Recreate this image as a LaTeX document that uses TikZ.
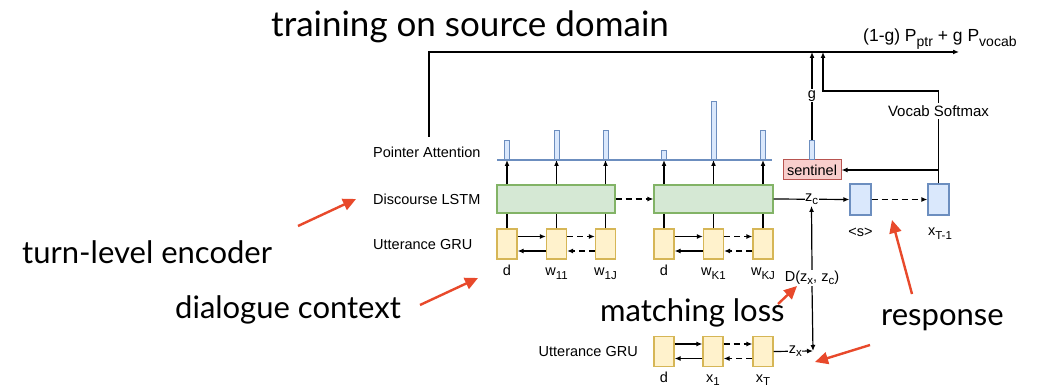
\documentclass[tikz,border=0pt]{standalone}
\usepackage{fontspec}
\setmainfont{Liberation Sans}
\newfontfamily\bigfont{Lato}
\usetikzlibrary{arrows.meta}
\definecolor{yfill}{HTML}{FFF2CC}
\definecolor{ydraw}{HTML}{D6B656}
\definecolor{gfill}{HTML}{D5E8D4}
\definecolor{gdraw}{HTML}{82B366}
\definecolor{bfill}{HTML}{DAE8FC}
\definecolor{bdraw}{HTML}{6C8EBF}
\definecolor{rfill}{HTML}{F8CECC}
\definecolor{rdraw}{HTML}{B85450}
\definecolor{redc}{HTML}{E8492B}
\newcommand\sbs[1]{\raisebox{-0.45ex}{\fontsize{11.5}{12}\selectfont #1}}
\newcommand\sbb[1]{\raisebox{-0.45ex}{\fontsize{14}{15}\selectfont #1}}
\begin{document}
\begin{tikzpicture}[x=1pt,y=-1pt,
  ybox/.style={draw=ydraw,fill=yfill,line width=1.2pt,minimum width=20pt,minimum height=30pt,inner sep=0pt},
  gbox/.style={draw=gdraw,fill=gfill,line width=1.2pt,minimum height=28pt,inner sep=0pt},
  bbox/.style={draw=bdraw,fill=bfill,line width=1.2pt,minimum width=21pt,minimum height=31pt,inner sep=0pt},
  bar/.style={draw=bdraw,fill=bfill,line width=0.8pt,minimum width=5pt,inner sep=0pt,anchor=south},
  arr/.style={-{Latex[length=6pt,width=5pt]},line width=1.2pt},
  blk/.style={line width=1.2pt},
  dsh/.style={dash pattern=on 6pt off 4pt},
  lbl/.style={font=\fontsize{14.5}{16}\selectfont,inner sep=1pt},
  big/.style={font=\bigfont\fontsize{31}{36}\selectfont,inner sep=0pt},
  redarr/.style={draw=redc,line width=2.4pt,-{Triangle[length=13pt,width=12pt]}}]
\useasboundingbox[fill=white] (0,0) rectangle (1037,390);

% top-row utterance GRU boxes
\node[ybox] (u1) at (507,244) {};
\node[ybox] (u2) at (556.5,244) {};
\node[ybox] (u3) at (605.5,244) {};
\node[ybox] (u4) at (664,244) {};
\node[ybox] (u5) at (713.5,244) {};
\node[ybox] (u6) at (763,244) {};
% discourse LSTM
\node[gbox,minimum width=118pt] (g1) at (556,199) {};
\node[gbox,minimum width=119pt] (g2) at (713.5,199) {};
% pointer line ends
\coordinate (pl) at (497,160);
\coordinate (pr) at (772,160);

\foreach \i in {1,...,6}{
  \draw[blk] (u\i.north) -- (u\i.north |- g1.south);
  \draw[arr] (u\i.north |- g1.north) -- (u\i.north |- pl);
}
\draw[bdraw,line width=1.3pt] (pl) -- (pr);
\node[bar,minimum height=19pt] (p1) at (u1.north |- pl) {};
\node[bar,minimum height=29pt] (p2) at (u2.north |- pl) {};
\node[bar,minimum height=29pt] (p3) at (u3.north |- pl) {};
\node[bar,minimum height=9pt]  (p4) at (u4.north |- pl) {};
\node[bar,minimum height=58pt] (p5) at (u5.north |- pl) {};
\node[bar,minimum height=29pt] (p6) at (u6.north |- pl) {};

% GRU arrows
\foreach \a/\b in {u1/u2,u4/u5}{
  \draw[arr] ([yshift=7.5pt]\a.east) -- ([yshift=7.5pt]\b.west);
  \draw[arr] ([yshift=-7pt]\b.west) -- ([yshift=-7pt]\a.east);
}
\foreach \a/\b in {u2/u3,u5/u6}{
  \draw[arr,dsh] ([yshift=7.5pt]\a.east) -- ([yshift=7.5pt]\b.west);
  \draw[arr,dsh] ([yshift=-7pt]\b.west) -- ([yshift=-7pt]\a.east);
}
\draw[arr,dsh] (g1.east) -- (g2.west);

% labels under top GRU
\node[lbl,anchor=base] (l1) at (507,276) {d};
\node[lbl,anchor=base] (l2) at (556.5,276) {w\sbs{11}};
\node[lbl,anchor=base] (l3) at (605.5,276) {w\sbs{1J}};
\node[lbl,anchor=base] (l4) at (664,276) {d};
\node[lbl,anchor=base] (l5) at (713.5,276) {w\sbs{K1}};
\node[lbl,anchor=base] (l6) at (763,276) {w\sbs{KJ}};

% left labels
\node[lbl,anchor=west] (pa) at (372,152) {Pointer Attention};
\node[lbl,anchor=west] (dl) at (372,199) {Discourse LSTM};
\node[lbl,anchor=west] (ug) at (372,245) {Utterance GRU};

% decoder
\node[bbox] (s) at (860.5,199.5) {};
\node[bbox] (xt) at (938.5,199.5) {};
\node[lbl,anchor=base] (sl) at (860.5,237) {<s>};
\node[lbl,anchor=base] (xl) at (940,236) {x\sbs{T-1}};
\draw[arr] (g2.east) -- node[lbl,fill=white,inner sep=0.5pt,pos=0.5] (zc) {z\sbs{c}} (s.west);
\draw[arr,dsh] (s.east) -- (xt.west);

% sentinel
\node[draw=rdraw,fill=rfill,line width=1pt,minimum width=58pt,minimum height=20pt,inner sep=0pt,font=\fontsize{14.5}{16}\selectfont] (sent) at (812,170) {sentinel};
\node[bar,minimum height=19pt] (p7) at (sent.north) {};

% top output
\coordinate (tl) at (429,137);
\coordinate (tr) at (959,52);
\draw[arr] (tl) |- (tr);
\node[inner sep=0pt,font=\fontsize{17.5}{19}\selectfont,anchor=base west] (out) at (863,42) {(1-g) P\sbb{ptr} + g P\sbb{vocab}};
\draw[arr] (p7.north) -- node[lbl,fill=white,pos=0.5] (gl) {g} (p7.north |- tr);
\coordinate (vk) at (823,91);
\draw[arr] (xt.north) |- (vk) -- (vk |- tr);
\node[fill=white,inner sep=2pt,font=\fontsize{15}{16}\selectfont] (vs) at (xt.north |- 0,111) {Vocab Softmax};
\draw[arr] (xt.north |- sent.east) -- (sent.east);

% matching
\node[lbl,fill=white,inner sep=1pt] (D) at (812,278) {D(z\sbs{x}, z\sbs{c})};
\draw[arr] (D.north) -- (zc.south);
\coordinate (m) at (813,351);
\draw[arr] (D.south) -- (m);

% bottom GRU
\node[ybox] (b1) at (664,351.5) {};
\node[ybox] (b2) at (713,351.5) {};
\node[ybox] (b3) at (763,351.5) {};
\draw[arr] ([yshift=7.5pt]b1.east) -- ([yshift=7.5pt]b2.west);
\draw[arr] ([yshift=-7pt]b2.west) -- ([yshift=-7pt]b1.east);
\draw[arr,dsh] ([yshift=7.5pt]b2.east) -- ([yshift=7.5pt]b3.west);
\draw[arr,dsh] ([yshift=-7pt]b3.west) -- ([yshift=-7pt]b2.east);
\draw[arr] (b3.east) -- node[lbl,fill=white,inner sep=0.5pt,pos=0.55] (zx) {z\sbs{x}} (m);
\node[lbl,anchor=east] (ug2) at (639,352) {Utterance GRU};
\node[lbl,anchor=base] (bl1) at (664,382) {d};
\node[lbl,anchor=base] (bl2) at (713,382) {x\sbs{1}};
\node[lbl,anchor=base] (bl3) at (763,382) {x\sbs{T}};

% big annotation texts
\node[big,font=\bigfont\fontsize{35}{40}\selectfont,anchor=base west] (t1) at (271,37) {training on source domain};
\node[big,anchor=base west] (t2) at (22,264) {turn-level encoder};
\node[big,anchor=base west] (t3) at (175,319) {dialogue context};
\node[big,anchor=base west] (t4) at (600,322) {matching loss};
\node[big,anchor=base west] (t5) at (881,326) {response};

% red arrows
\coordinate (r1a) at (298,226); \coordinate (r1b) at (356,199);
\coordinate (r2a) at (420,305); \coordinate (r2b) at (478,278);
\coordinate (r3a) at (778,304); \coordinate (r3b) at (797,286);
\coordinate (r4a) at (912,294); \coordinate (r4b) at (892,220);
\coordinate (r5a) at (870,345); \coordinate (r5b) at (815,362);
\draw[redarr] (r1a) -- (r1b);
\draw[redarr] (r2a) -- (r2b);
\draw[redarr] (r3a) -- (r3b);
\draw[redarr] (r4a) -- (r4b);
\draw[redarr] (r5a) -- (r5b);
\end{tikzpicture}
\end{document}
